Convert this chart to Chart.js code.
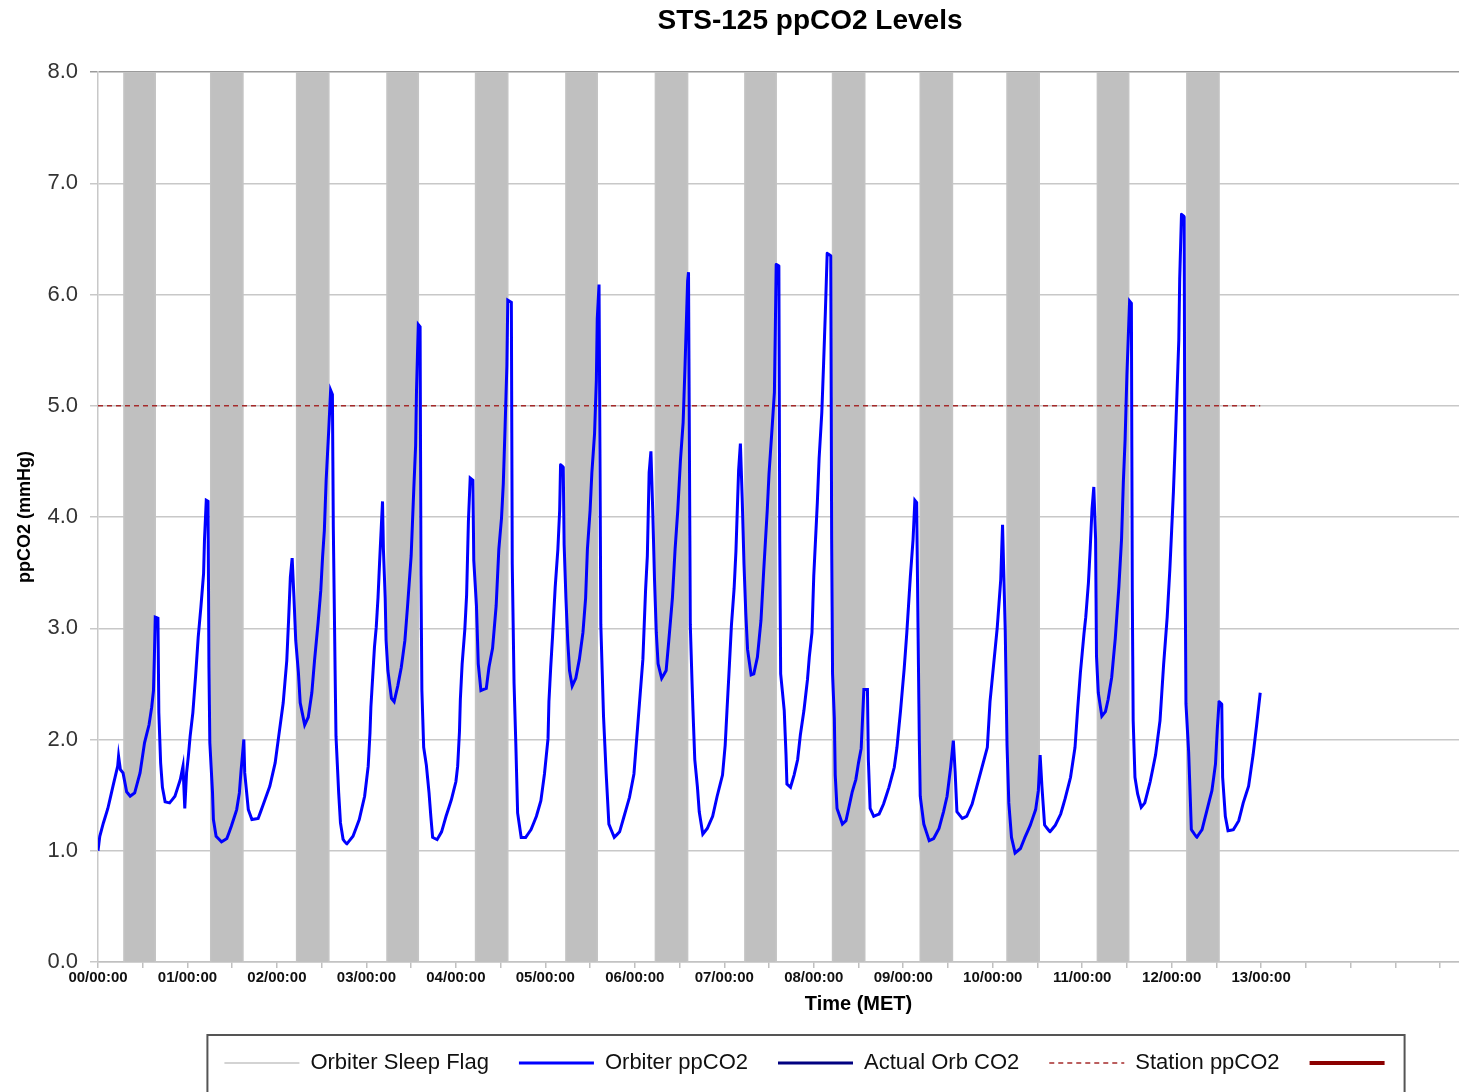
<!DOCTYPE html>
<html>
<head>
<meta charset="utf-8">
<title>STS-125 ppCO2 Levels</title>
<script src="https://cdn.jsdelivr.net/npm/chart.js@4/dist/chart.umd.min.js"></script>
<style>
  html, body { margin: 0; padding: 0; background: #fff; overflow: hidden; }
  #wrap { width: 1620px; height: 1092px; }
</style>
</head>
<body>
<div id="wrap"><canvas id="co2Chart"></canvas></div>
<script>
// mission elapsed time, days
const metDays = [
  0.00, 0.02, 0.06, 0.11, 0.17, 0.22, 0.23, 0.25, 0.28, 0.32, 0.36, 0.41, 0.47, 0.52, 0.57, 0.60, 0.62, 0.63, 0.64, 0.67,
  0.68, 0.70, 0.72, 0.75, 0.80, 0.86, 0.92, 0.95, 0.97, 0.99, 1.01, 1.03, 1.06, 1.09, 1.12, 1.15, 1.18, 1.19, 1.21, 1.23,
  1.24, 1.25, 1.28, 1.29, 1.32, 1.38, 1.44, 1.49, 1.55, 1.58, 1.60, 1.63, 1.64, 1.68, 1.72, 1.79, 1.84, 1.92, 1.98, 2.02,
  2.07, 2.11, 2.13, 2.15, 2.17, 2.19, 2.21, 2.24, 2.26, 2.31, 2.35, 2.39, 2.42, 2.46, 2.49, 2.51, 2.53, 2.55, 2.58, 2.60,
  2.62, 2.63, 2.65, 2.66, 2.69, 2.71, 2.74, 2.78, 2.85, 2.92, 2.98, 3.02, 3.04, 3.05, 3.07, 3.09, 3.11, 3.13, 3.15, 3.18,
  3.19, 3.21, 3.22, 3.24, 3.28, 3.31, 3.35, 3.39, 3.43, 3.46, 3.50, 3.53, 3.55, 3.56, 3.58, 3.60, 3.61, 3.62, 3.64, 3.67,
  3.70, 3.72, 3.74, 3.79, 3.84, 3.89, 3.95, 4.00, 4.02, 4.04, 4.05, 4.07, 4.10, 4.12, 4.14, 4.16, 4.19, 4.20, 4.23, 4.25,
  4.28, 4.34, 4.37, 4.41, 4.45, 4.48, 4.51, 4.53, 4.55, 4.57, 4.58, 4.62, 4.63, 4.65, 4.67, 4.69, 4.73, 4.78, 4.84, 4.90,
  4.95, 4.99, 5.03, 5.04, 5.06, 5.08, 5.11, 5.14, 5.16, 5.17, 5.20, 5.21, 5.23, 5.25, 5.27, 5.30, 5.34, 5.38, 5.42, 5.45,
  5.47, 5.50, 5.52, 5.55, 5.57, 5.58, 5.60, 5.61, 5.62, 5.65, 5.68, 5.71, 5.77, 5.83, 5.88, 5.94, 5.99, 6.03, 6.06, 6.09,
  6.12, 6.14, 6.16, 6.18, 6.20, 6.22, 6.24, 6.26, 6.30, 6.35, 6.38, 6.42, 6.45, 6.48, 6.51, 6.54, 6.56, 6.59, 6.60, 6.61,
  6.62, 6.64, 6.65, 6.67, 6.70, 6.72, 6.76, 6.81, 6.87, 6.92, 6.98, 7.01, 7.03, 7.05, 7.08, 7.11, 7.13, 7.16, 7.18, 7.20,
  7.22, 7.24, 7.26, 7.30, 7.33, 7.37, 7.41, 7.44, 7.48, 7.50, 7.53, 7.56, 7.57, 7.58, 7.61, 7.62, 7.63, 7.67, 7.69, 7.70,
  7.74, 7.78, 7.82, 7.85, 7.89, 7.93, 7.95, 7.98, 8.00, 8.02, 8.04, 8.06, 8.09, 8.11, 8.13, 8.15, 8.19, 8.20, 8.21, 8.23,
  8.24, 8.26, 8.32, 8.36, 8.39, 8.43, 8.47, 8.50, 8.53, 8.56, 8.60, 8.61, 8.63, 8.67, 8.73, 8.78, 8.84, 8.90, 8.93, 8.97,
  9.01, 9.04, 9.08, 9.11, 9.13, 9.15, 9.17, 9.18, 9.19, 9.23, 9.29, 9.34, 9.40, 9.45, 9.49, 9.53, 9.56, 9.58, 9.60, 9.66,
  9.71, 9.77, 9.82, 9.88, 9.94, 9.97, 10.01, 10.05, 10.09, 10.11, 10.14, 10.16, 10.18, 10.21, 10.25, 10.31, 10.36, 10.42, 10.48, 10.51,
  10.53, 10.55, 10.58, 10.64, 10.70, 10.76, 10.81, 10.87, 10.92, 10.95, 10.98, 11.02, 11.04, 11.07, 11.09, 11.11, 11.13, 11.15, 11.16, 11.18,
  11.22, 11.26, 11.29, 11.33, 11.37, 11.41, 11.44, 11.46, 11.48, 11.50, 11.53, 11.55, 11.56, 11.57, 11.59, 11.62, 11.66, 11.70, 11.76, 11.82,
  11.87, 11.91, 11.95, 11.98, 12.00, 12.02, 12.04, 12.06, 12.08, 12.09, 12.11, 12.14, 12.15, 12.16, 12.19, 12.21, 12.22, 12.28, 12.34, 12.39,
  12.45, 12.49, 12.51, 12.53, 12.56, 12.57, 12.60, 12.63, 12.69, 12.75, 12.80, 12.86, 12.91, 12.95, 12.99
];

// orbiter ppCO2, mmHg
const orbiterPpco2 = [
  1.00, 1.13, 1.25, 1.38, 1.59, 1.76, 1.85, 1.73, 1.70, 1.53, 1.49, 1.52, 1.70, 1.97, 2.13, 2.29, 2.44, 2.74, 3.10, 3.09,
  2.24, 1.79, 1.57, 1.44, 1.43, 1.49, 1.64, 1.76, 1.38, 1.70, 1.85, 2.03, 2.24, 2.56, 2.92, 3.19, 3.49, 3.79, 4.15, 4.14,
  2.65, 1.97, 1.52, 1.28, 1.13, 1.08, 1.11, 1.22, 1.37, 1.52, 1.73, 2.00, 1.70, 1.37, 1.28, 1.29, 1.40, 1.58, 1.79, 2.03,
  2.33, 2.71, 3.07, 3.46, 3.63, 3.28, 2.89, 2.60, 2.33, 2.13, 2.20, 2.42, 2.71, 3.05, 3.34, 3.64, 3.88, 4.33, 4.80, 5.14,
  5.10, 3.91, 2.62, 2.03, 1.52, 1.25, 1.10, 1.06, 1.13, 1.28, 1.49, 1.76, 2.06, 2.29, 2.56, 2.83, 3.01, 3.28, 3.64, 4.14,
  3.71, 3.27, 2.89, 2.62, 2.37, 2.34, 2.48, 2.65, 2.89, 3.20, 3.65, 4.26, 4.64, 5.14, 5.73, 5.71, 3.47, 2.44, 1.93, 1.77,
  1.52, 1.31, 1.12, 1.10, 1.17, 1.31, 1.46, 1.62, 1.76, 2.07, 2.36, 2.68, 2.99, 3.30, 3.96, 4.35, 4.33, 3.61, 3.20, 2.68,
  2.44, 2.46, 2.65, 2.82, 3.20, 3.71, 3.99, 4.30, 4.81, 5.36, 5.95, 5.93, 3.58, 2.51, 1.96, 1.34, 1.12, 1.12, 1.19, 1.31,
  1.45, 1.69, 2.01, 2.34, 2.65, 2.92, 3.37, 3.71, 4.06, 4.47, 4.45, 3.75, 3.27, 2.89, 2.62, 2.48, 2.55, 2.72, 2.96, 3.27,
  3.71, 4.06, 4.40, 4.75, 5.23, 5.78, 6.09, 4.61, 3.03, 2.21, 1.69, 1.24, 1.12, 1.17, 1.31, 1.48, 1.69, 2.10, 2.41, 2.72,
  3.34, 3.65, 4.40, 4.59, 4.06, 3.44, 2.96, 2.68, 2.55, 2.62, 2.89, 3.27, 3.71, 4.06, 4.51, 4.85, 5.33, 6.12, 6.20, 4.64,
  3.03, 2.50, 2.26, 1.82, 1.57, 1.35, 1.15, 1.20, 1.31, 1.49, 1.68, 1.95, 2.26, 2.56, 3.03, 3.36, 3.69, 4.42, 4.66, 4.17,
  3.58, 3.14, 2.81, 2.58, 2.59, 2.74, 3.07, 3.51, 4.06, 4.39, 4.75, 5.12, 5.67, 6.27, 6.26, 3.77, 2.59, 2.26, 1.86, 1.60,
  1.57, 1.68, 1.82, 2.04, 2.26, 2.54, 2.74, 2.96, 3.47, 3.80, 4.13, 4.53, 4.94, 5.38, 5.85, 6.37, 6.35, 3.80, 2.59, 2.19,
  1.68, 1.38, 1.24, 1.27, 1.38, 1.53, 1.64, 1.79, 1.92, 2.45, 2.45, 1.82, 1.38, 1.31, 1.33, 1.42, 1.57, 1.75, 1.93, 2.26,
  2.63, 2.96, 3.47, 3.80, 4.15, 4.13, 2.67, 1.97, 1.49, 1.24, 1.09, 1.11, 1.20, 1.35, 1.49, 1.75, 1.99, 1.71, 1.35, 1.29,
  1.31, 1.42, 1.57, 1.75, 1.93, 2.34, 2.67, 3.00, 3.44, 3.93, 2.98, 1.95, 1.43, 1.12, 0.98, 1.02, 1.12, 1.23, 1.37, 1.54,
  1.86, 1.58, 1.23, 1.17, 1.23, 1.33, 1.47, 1.66, 1.93, 2.28, 2.60, 2.95, 3.10, 3.41, 3.72, 4.07, 4.27, 3.80, 2.75, 2.42,
  2.21, 2.25, 2.36, 2.56, 2.91, 3.37, 3.80, 4.31, 4.70, 5.28, 5.94, 5.92, 3.33, 2.17, 1.66, 1.51, 1.39, 1.43, 1.62, 1.86,
  2.17, 2.67, 3.10, 3.53, 3.88, 4.23, 4.66, 5.12, 5.59, 6.14, 6.72, 6.70, 3.65, 2.32, 1.89, 1.43, 1.19, 1.12, 1.19, 1.35,
  1.54, 1.78, 2.09, 2.34, 2.32, 1.66, 1.31, 1.18, 1.19, 1.27, 1.43, 1.58, 1.86, 2.13, 2.42
];

// crew sleep periods (start / end, days MET)
const sleepStart = [0.29, 1.26, 2.22, 3.23, 4.22, 5.23, 6.23, 7.23, 8.21, 9.19, 10.16, 11.17, 12.17];
const sleepEnd   = [0.64, 1.62, 2.58, 3.58, 4.58, 5.58, 6.59, 7.58, 8.57, 9.55, 10.52, 11.52, 12.53];
const sleepFlagOn = 8.0;

// station ppCO2 reference
const stationDays = [0, 12.99];
const stationPpco2 = [5.0, 5.0];

const dayLabels = ['00/00:00', '01/00:00', '02/00:00', '03/00:00', '04/00:00', '05/00:00', '06/00:00',
  '07/00:00', '08/00:00', '09/00:00', '10/00:00', '11/00:00', '12/00:00', '13/00:00'];

const FONT = "'Liberation Sans', Arial, sans-serif";

// build point lists
const orbiterPts = metDays.map((d, i) => ({ x: d, y: orbiterPpco2[i] }));
const sleepPts = [];
sleepStart.forEach((s, i) => {
  sleepPts.push({ x: s, y: 0 }, { x: s, y: sleepFlagOn }, { x: sleepEnd[i], y: sleepFlagOn }, { x: sleepEnd[i], y: 0 });
});
const stationPts = stationDays.map((d, i) => ({ x: d, y: stationPpco2[i] }));

// frame round the legend
const legendFrame = {
  id: 'legendFrame',
  afterDraw(chart) {
    const lg = chart.legend;
    if (!lg || !lg.legendHitBoxes || !lg.legendHitBoxes.length) return;
    const hb = lg.legendHitBoxes;
    const left = hb[0].left - 17;
    const right = hb[hb.length - 1].left + 75 + 20;
    const ctx = chart.ctx;
    ctx.save();
    ctx.strokeStyle = '#555';
    ctx.lineWidth = 2;
    ctx.strokeRect(left, lg.top + 13, right - left, chart.height);
    ctx.restore();
  }
};

// legend samples keep the dataset line style (dash, width)
function legendLabels(chart) {
  const items = Chart.defaults.plugins.legend.labels.generateLabels(chart);
  items.forEach((item) => {
    const ds = chart.data.datasets[item.datasetIndex];
    item.strokeStyle = ds.borderColor;
    item.lineWidth = ds.borderWidth;
    item.lineDash = ds.borderDash || [];
  });
  return items;
}

const ctx = document.getElementById('co2Chart').getContext('2d');
const chart = new Chart(ctx, {
  type: 'line',
  data: {
    datasets: [
      {
        label: 'Orbiter Sleep Flag',
        data: sleepPts,
        borderColor: '#c4c4c4',
        backgroundColor: '#c0c0c0',
        borderWidth: 1.5,
        fill: 'origin',
        pointRadius: 0,
        tension: 0,
        order: 10
      },
      {
        label: 'Orbiter ppCO2',
        data: orbiterPts,
        borderColor: '#0000ff',
        borderWidth: 3,
        pointRadius: 0,
        tension: 0.0001,
        fill: false,
        order: 1
      },
      {
        label: 'Actual Orb CO2',
        data: [],
        borderColor: '#000080',
        borderWidth: 3,
        pointRadius: 0,
        fill: false
      },
      {
        label: 'Station ppCO2',
        data: stationPts,
        borderColor: '#a52a2a',
        borderWidth: 1.4,
        borderDash: [5, 4],
        pointRadius: 0,
        fill: false,
        order: 2
      },
      {
        label: '',
        data: [],
        borderColor: '#8b0000',
        borderWidth: 4,
        pointRadius: 0,
        fill: false
      }
    ]
  },
  options: {
    responsive: true,
    maintainAspectRatio: false,
    animation: false,
    layout: { padding: { left: 0, right: 0, top: 0, bottom: 8 } },
    plugins: {
      title: {
        display: true,
        text: 'STS-125 ppCO2 Levels',
        color: '#000',
        font: { family: FONT, size: 28, weight: 'bold' },
        padding: { top: 4, bottom: 34.4 }
      },
      legend: {
        position: 'bottom',
        labels: {
          usePointStyle: true,
          pointStyle: 'line',
          pointStyleWidth: 75,
          boxHeight: 4,
          padding: 30,
          color: '#111',
          font: { family: FONT, size: 22 },
          generateLabels: legendLabels,
          sort: (a, b) => a.datasetIndex - b.datasetIndex
        }
      },
      tooltip: { enabled: false }
    },
    scales: {
      x: {
        type: 'linear',
        min: 0,
        max: 17,
        title: {
          display: true,
          text: 'Time (MET)',
          color: '#000',
          font: { family: FONT, size: 20, weight: 'bold' },
          padding: { top: 0, bottom: 5.5 }
        },
        ticks: {
          stepSize: 0.5,
          autoSkip: false,
          maxRotation: 0,
          minRotation: 0,
          padding: 1,
          color: '#111',
          font: { family: FONT, size: 15, weight: 'bold' },
          callback: (v) => (Number.isInteger(v) && v < dayLabels.length ? dayLabels[v] : '')
        },
        grid: {
          drawOnChartArea: false,
          drawTicks: true,
          tickLength: 6,
          color: '#c0c0c0',
          lineWidth: 1.5
        },
        border: { display: true, color: '#c0c0c0', width: 1.5 },
        afterFit: (scale) => { scale.height = 60; }
      },
      y: {
        min: 0,
        max: 8,
        title: {
          display: true,
          text: 'ppCO2 (mmHg)',
          color: '#000',
          font: { family: FONT, size: 18, weight: 'bold' },
          padding: { top: 14, bottom: 0 }
        },
        ticks: {
          stepSize: 1,
          padding: 12,
          color: '#333',
          font: { family: FONT, size: 22 },
          callback: (v) => v.toFixed(1)
        },
        grid: {
          color: (c) => (c.tick && c.tick.value === 8 ? '#9a9a9a' : '#c8c8c8'),
          lineWidth: 1.5,
          tickLength: 8
        },
        border: { display: true, color: '#c8c8c8', width: 1.5 },
        afterFit: (scale) => { scale.width = 98; }
      }
    }
  },
  plugins: [legendFrame]
});
</script>
</body>
</html>
